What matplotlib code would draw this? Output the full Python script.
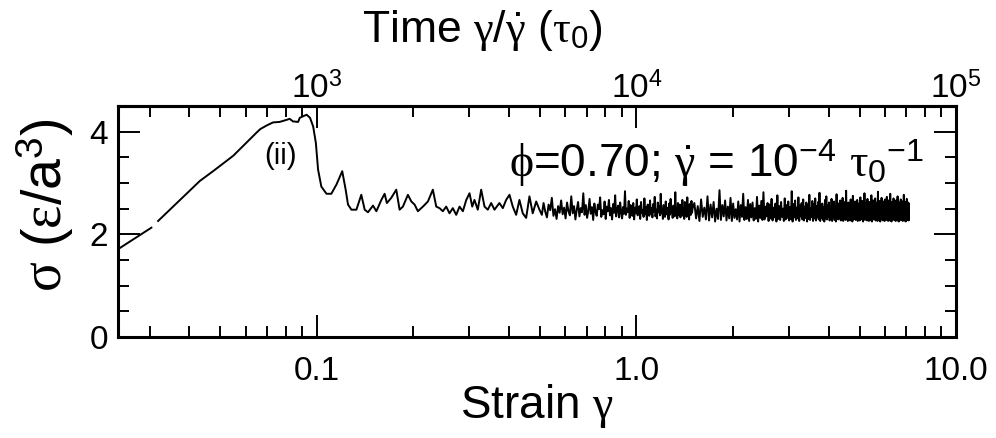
import numpy as np
import matplotlib
matplotlib.use("Agg")
import matplotlib.pyplot as plt
from matplotlib.ticker import FixedLocator, MultipleLocator, LogLocator, NullFormatter

plt.rcParams['font.family'] = ['Liberation Sans', 'DejaVu Sans']
plt.rcParams['mathtext.fontset'] = 'custom'
plt.rcParams['mathtext.rm'] = 'Liberation Sans'
plt.rcParams['mathtext.it'] = 'Liberation Serif'
plt.rcParams['mathtext.bf'] = 'Liberation Sans:bold'
plt.rcParams['mathtext.sf'] = 'Liberation Sans'
plt.rcParams['mathtext.fallback'] = 'stix'
plt.rcParams['path.simplify'] = False

# ---------------- data ----------------
# first short piece before the small gap in the curve
strain_a = [0.0239, 0.0304]
stress_a = [1.71, 2.13]

# loading, overshoot (ii) and early steady state
strain_b = [0.0319, 0.0431, 0.0474, 0.0548, 0.0648, 0.0666, 0.0697, 0.0730, 0.0766,
            0.0805, 0.0823, 0.0843, 0.0875, 0.0885, 0.0907, 0.0930, 0.0953, 0.0975,
            0.0994, 0.1010, 0.1034, 0.1073, 0.1111, 0.1153, 0.1202, 0.1232, 0.1253,
            0.1284, 0.1331, 0.1379, 0.1413, 0.1447, 0.1500, 0.1537, 0.1593, 0.1631,
            0.1658, 0.1711, 0.1774, 0.1817, 0.1861, 0.1929, 0.1977, 0.2024, 0.2073,
            0.2149, 0.2228, 0.2309, 0.2366, 0.2423, 0.2481, 0.2542, 0.2603, 0.2666,
            0.2732, 0.2798, 0.2866, 0.2937, 0.3007, 0.3066, 0.3116, 0.3191, 0.3270,
            0.3350, 0.3430, 0.3514, 0.3599, 0.3729, 0.3822, 0.3914, 0.4010, 0.4106,
            0.4207, 0.4308, 0.4412, 0.4521, 0.4630, 0.4741, 0.4860, 0.4976]
stress_b = [2.26, 3.04, 3.23, 3.53, 3.98, 4.05, 4.12, 4.18, 4.19,
            4.23, 4.25, 4.20, 4.19, 4.27, 4.30, 4.33, 4.27, 4.10,
            3.78, 3.26, 2.93, 2.79, 2.79, 2.97, 3.23, 2.87, 2.58,
            2.48, 2.48, 2.77, 2.48, 2.43, 2.56, 2.45, 2.67, 2.79,
            2.61, 2.71, 2.87, 2.48, 2.54, 2.77, 2.64, 2.58, 2.45,
            2.54, 2.64, 2.87, 2.54, 2.51, 2.45, 2.54, 2.41, 2.51,
            2.38, 2.54, 2.45, 2.67, 2.80, 2.54, 2.67, 2.48, 2.87,
            2.54, 2.48, 2.61, 2.48, 2.61, 2.51, 2.67, 2.77, 2.54,
            2.38, 2.67, 2.41, 2.32, 2.74, 2.41, 2.64, 2.48]

# dense steady-state noise, sampled uniformly in strain (constant time step)
strain_c_start, strain_c_end = 0.50, 1.5
stress_c = [2.52, 2.38, 2.61, 2.44, 2.33, 2.58, 2.47, 2.71, 2.36, 2.49, 2.30, 2.55, 2.42, 2.66, 2.39, 2.52, 2.31, 2.62, 2.45, 2.37,
            2.74, 2.41, 2.55, 2.29, 2.48, 2.63, 2.35, 2.51, 2.43, 2.80, 2.38, 2.57, 2.32, 2.46, 2.69, 2.40, 2.53, 2.28, 2.60, 2.44,
            2.36, 2.58, 2.49, 2.72, 2.34, 2.47, 2.39, 2.64, 2.30, 2.54, 2.45, 2.67, 2.37, 2.51, 2.29, 2.59, 2.42, 2.76, 2.35, 2.48,
            2.56, 2.33, 2.62, 2.44, 2.31, 2.53, 2.40, 2.84, 2.38, 2.50, 2.43, 2.65, 2.32, 2.57, 2.46, 2.36, 2.61, 2.29, 2.52, 2.41,
            2.68, 2.37, 2.49, 2.55, 2.30, 2.63, 2.42, 2.47, 2.34, 2.70, 2.39, 2.53, 2.28, 2.58, 2.45, 2.36, 2.66, 2.40, 2.51, 2.33,
            2.59, 2.44, 2.73, 2.35, 2.48, 2.31, 2.62, 2.43, 2.55, 2.37, 2.79, 2.41, 2.50, 2.30, 2.57, 2.46, 2.34, 2.64, 2.39, 2.52,
            2.45, 2.29, 2.60, 2.38, 2.69, 2.42, 2.53, 2.32, 2.56, 2.47, 2.35, 2.82, 2.40, 2.49, 2.31, 2.61, 2.44, 2.37, 2.58, 2.33,
            2.54, 2.43, 2.67, 2.36, 2.50, 2.30, 2.63, 2.41, 2.48, 2.34, 2.72, 2.39, 2.55, 2.29, 2.59, 2.45, 2.38, 2.65, 2.42, 2.51]

strain_d_start, strain_d_end = 1.5, 7.13
stress_d = [2.28, 2.61, 2.31, 2.55, 2.26, 2.68, 2.34, 2.52, 2.29, 2.74, 2.27, 2.58, 2.33, 2.63, 2.25, 2.50, 2.30, 2.86, 2.28, 2.57,
            2.35, 2.66, 2.27, 2.54, 2.31, 2.71, 2.26, 2.60, 2.32, 2.49, 2.29, 2.64, 2.25, 2.57, 2.34, 2.79, 2.28, 2.53, 2.30, 2.67,
            2.26, 2.59, 2.33, 2.62, 2.27, 2.51, 2.30, 2.73, 2.25, 2.56, 2.32, 2.65, 2.28, 2.82, 2.29, 2.54, 2.35, 2.61, 2.26, 2.58,
            2.31, 2.69, 2.27, 2.52, 2.33, 2.60, 2.25, 2.76, 2.30, 2.55, 2.28, 2.63, 2.34, 2.50, 2.26, 2.70, 2.29, 2.57, 2.32, 2.64,
            2.27, 2.53, 2.30, 2.84, 2.25, 2.59, 2.33, 2.66, 2.28, 2.52, 2.31, 2.72, 2.26, 2.56, 2.35, 2.61, 2.29, 2.68, 2.27, 2.54,
            2.32, 2.62, 2.25, 2.58, 2.30, 2.77, 2.28, 2.51, 2.34, 2.65, 2.26, 2.59, 2.31, 2.70, 2.27, 2.55, 2.33, 2.63, 2.29, 2.81,
            2.26, 2.57, 2.32, 2.60, 2.28, 2.53, 2.25, 2.67, 2.31, 2.74, 2.29, 2.56, 2.34, 2.62, 2.27, 2.50, 2.30, 2.69, 2.26, 2.59,
            2.33, 2.64, 2.28, 2.55, 2.25, 2.78, 2.31, 2.61, 2.29, 2.52, 2.35, 2.66, 2.27, 2.58, 2.30, 2.71, 2.26, 2.54, 2.32, 2.63,
            2.28, 2.85, 2.30, 2.57, 2.26, 2.62, 2.33, 2.51, 2.27, 2.68, 2.31, 2.59, 2.25, 2.75, 2.29, 2.55, 2.34, 2.64, 2.28, 2.52,
            2.30, 2.67, 2.26, 2.60, 2.32, 2.56, 2.27, 2.72, 2.29, 2.53, 2.35, 2.65, 2.25, 2.58, 2.31, 2.80, 2.28, 2.61, 2.33, 2.54,
            2.27, 2.69, 2.30, 2.55, 2.26, 2.63, 2.32, 2.57, 2.28, 2.76, 2.25, 2.52, 2.34, 2.66, 2.29, 2.59, 2.31, 2.70, 2.27, 2.56,
            2.33, 2.62, 2.26, 2.83, 2.30, 2.54, 2.28, 2.65, 2.25, 2.58, 2.32, 2.71, 2.29, 2.53, 2.27, 2.64, 2.34, 2.57, 2.26, 2.68,
            2.31, 2.55, 2.28, 2.73, 2.33, 2.60, 2.26, 2.52, 2.30, 2.67, 2.27, 2.79, 2.32, 2.56, 2.25, 2.63, 2.29, 2.58, 2.35, 2.70,
            2.28, 2.61, 2.31, 2.54, 2.26, 2.66, 2.33, 2.59, 2.27, 2.74, 2.30, 2.55, 2.25, 2.62, 2.32, 2.57, 2.28, 2.68, 2.29, 2.53,
            2.34, 2.64, 2.26, 2.58, 2.30, 2.77, 2.27, 2.56, 2.32, 2.63, 2.25, 2.60, 2.31, 2.69, 2.28, 2.55, 2.33, 2.62, 2.27, 2.59]

strain_ticks = [0.1, 1.0, 10.0]
strain_ticklabels = ['0.1', '1.0', '10.0']
time_ticks = [1e3, 1e4, 1e5]
time_ticklabels = [r'$\mathrm{10}^{3}$', r'$\mathrm{10}^{4}$', r'$\mathrm{10}^{5}$']
stress_ticks = [0, 2, 4]
shear_rate = 1e-4

# ---------------- figure ----------------
W, H = 996, 438
fig = plt.figure(figsize=(W / 100, H / 100), dpi=100)
L, R, T, B = 118, 956, 106, 337
ax = fig.add_axes([L / W, 1 - B / H, (R - L) / W, (B - T) / H])

strain_c = np.linspace(strain_c_start, strain_c_end, len(stress_c))
strain_d = np.linspace(strain_d_start, strain_d_end, len(stress_d))
x_main = np.concatenate([strain_b, strain_c[1:], strain_d[1:]])
y_main = np.concatenate([stress_b, stress_c[1:], stress_d[1:]])

lw = 1.4
ax.plot(strain_a, stress_a, color='black', lw=lw)
ax.plot(x_main, y_main, color='black', lw=lw)

ax.set_xscale('log')
ax.set_xlim(0.0239, 10.0)
ax.set_ylim(0, 4.5)
ax.xaxis.set_major_locator(FixedLocator(strain_ticks))
ax.set_xticklabels(strain_ticklabels)
ax.xaxis.set_minor_locator(LogLocator(base=10, subs=np.arange(2, 10), numticks=50))
ax.xaxis.set_minor_formatter(NullFormatter())
ax.yaxis.set_major_locator(FixedLocator(stress_ticks))
ax.yaxis.set_minor_locator(MultipleLocator(0.5))

for s in ax.spines.values():
    s.set_linewidth(2.2)

ax.tick_params(which='both', direction='in', top=False, right=True, width=1.4,
               labelsize=24, colors='black')
ax.tick_params(which='major', length=16)
ax.tick_params(which='minor', length=8)
ax.tick_params(axis='x', pad=14)
ax.tick_params(axis='y', pad=7)

secax = ax.secondary_xaxis('top', functions=(lambda g: g / shear_rate, lambda t: t * shear_rate))
secax.set_xticks(time_ticks, labels=time_ticklabels)
secax.xaxis.set_minor_locator(LogLocator(base=10, subs=np.arange(2, 10), numticks=50))
secax.xaxis.set_minor_formatter(NullFormatter())
secax.tick_params(which='both', direction='in', width=1.4, labelsize=24, pad=1)
secax.tick_params(which='major', length=16)
secax.tick_params(which='minor', length=8)
secax.spines['top'].set_linewidth(2.2)

ax.set_xlabel(r'Strain $γ$', fontsize=33)
ax.xaxis.set_label_coords(0.5, (B - 418) / (B - T))
ax.xaxis.label.set_va('baseline')

secax.set_xlabel(r'Time $γ/\dot{γ}$ ($τ_{0}$)', fontsize=32)
secax.xaxis.set_label_coords((482 - L) / (R - L), (B - 42) / (B - T), transform=ax.transAxes)
secax.xaxis.label.set_va('baseline')

ax.set_ylabel(r'$σ$ ($ε$/$\mathrm{a}^{3}$)', fontsize=40)
ax.yaxis.set_label_coords((45 - L) / (R - L), (B - 205) / (B - T))
ax.yaxis.label.set_va('center')

ax.text(0.401, 3.12, r'$ϕ$=0.70; $\dot{γ}$ = $\mathrm{10}^{-4}$ $τ_{0}{}^{-1}$',
        fontsize=33, ha='left', va='baseline')
ax.text(0.0772, 3.53, '(ii)', fontsize=21, ha='center', va='center')

fig.savefig('out.png', dpi=100)
